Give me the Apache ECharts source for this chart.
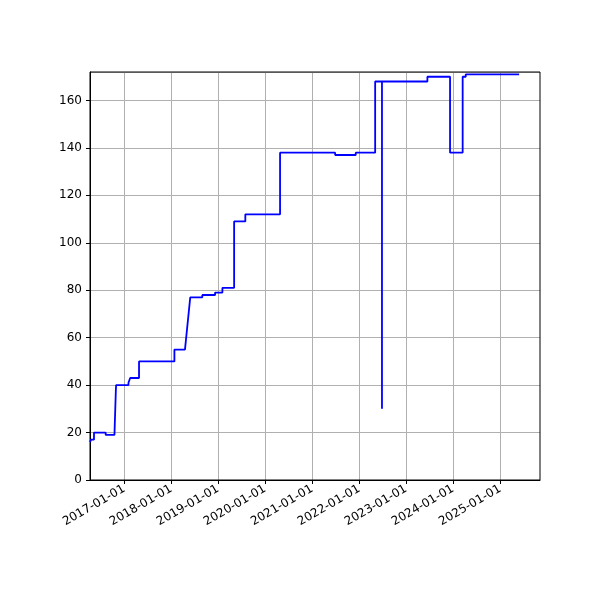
<!DOCTYPE html><html><head><meta charset="utf-8"><script src="https://cdn.jsdelivr.net/npm/echarts@6/dist/echarts.min.js"></script></head><body style="margin:0"><div id="c" style="width:600px;height:600px"></div><script>
const dates=['2016-04-10','2016-04-10','2016-04-18','2016-04-18','2016-05-11','2016-05-11','2016-08-10','2016-08-10','2016-10-17','2016-10-28','2016-10-30','2017-02-03','2017-02-03','2017-02-16','2017-02-16','2017-04-26','2017-04-26','2018-01-26','2018-01-26','2018-04-18','2018-05-29','2018-08-31','2018-08-31','2018-12-08','2018-12-08','2019-02-03','2019-02-03','2019-05-05','2019-05-05','2019-07-31','2019-07-31','2020-04-26','2020-04-26','2021-06-28','2021-06-28','2021-12-05','2021-12-05','2022-05-05','2022-05-05','2022-06-27','2022-06-27','2022-06-27','2023-06-15','2023-06-15','2023-12-08','2023-12-08','2024-03-15','2024-03-15','2024-04-08','2024-04-08','2025-05-28'];
const values=[16,16,16,17,17,20,20,19,19,38,40,40,41,41,43,43,50,50,55,55,77,77,78,78,79,79,81,81,109,109,112,112,138,138,137,137,138,138,168,168,30,168,168,170,170,138,138,170,170,171,171];
const tickYears=['2017','2018','2019','2020','2021','2022','2023','2024','2025'];
const ts=d=>Date.parse(d+'T00:00:00Z');
const ticks=tickYears.map(y=>ts(y+'-01-01'));
const pts=dates.map((d,i)=>[ts(d),values[i]]);
const ch=echarts.init(document.getElementById('c'));
const gl={show:true,lineStyle:{color:'#b0b0b0',width:1}};
ch.setOption({animation:false,grid:{left:90,right:60,top:72,bottom:120},
xAxis:{type:'value',min:ts('2016-04-10'),max:ts('2025-11-06'),
axisTick:{customValues:ticks,length:4,lineStyle:{color:'#000'}},
axisLabel:{customValues:ticks,rotate:30,color:'#000',fontSize:12,fontFamily:'DejaVu Sans',formatter:v=>{const d=new Date(v);return d.getUTCFullYear()+'-01-01';}},
splitLine:gl,axisLine:{onZero:false,lineStyle:{color:'#000'}}},
yAxis:{type:'value',min:0,max:172,interval:20,axisLabel:{showMaxLabel:false,color:'#000',fontSize:12,fontFamily:'DejaVu Sans'},axisTick:{show:true,length:4,lineStyle:{color:'#000'}},axisLine:{show:true,lineStyle:{color:'#000'}},splitLine:gl},
series:[{type:'line',data:pts,showSymbol:false,lineStyle:{color:'#0000ff',width:1.8}}]});
ch.setOption({graphic:[{type:'rect',shape:{x:90,y:72,width:450,height:408},style:{fill:null,stroke:'#000',lineWidth:1},silent:true}]});
</script></body></html>
